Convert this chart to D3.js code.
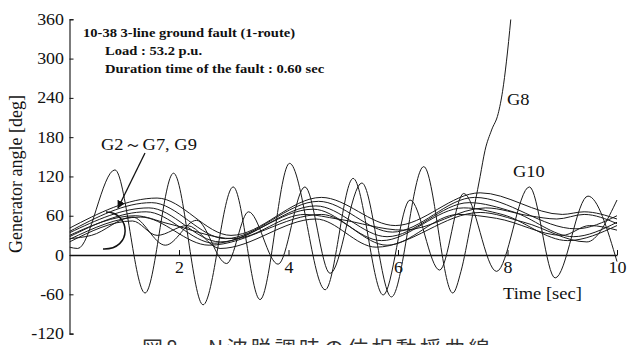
<!DOCTYPE html>
<html>
<head>
<meta charset="utf-8">
<script src="https://cdn.jsdelivr.net/npm/d3@7"></script>
<style>
  html, body { margin: 0; padding: 0; background: #fff; }
  svg { display: block; }
</style>
</head>
<body>
<svg id="chart" width="627" height="345"></svg>
<script>
// Generator phase angles [deg] against time [sec], stored as [time, angle] pairs.
// G2–G7 and G9 stay together as a group; G8 loses synchronism; G10 swings widely.
const g2 = [[0,41],[1.6,87],[2.95,30],[4.6,88],[5.95,45],[7.5,95],[9.0,62],[9.4,66],[10,55]];
const g3 = [[0,36],[1.5,80],[2.85,25],[4.55,82],[5.9,35],[7.4,88],[9.25,40],[10,60]];
const g4 = [[0,34],[1.45,72],[2.75,20],[4.5,75],[5.8,28],[7.3,80],[8.1,66],[9.2,28],[10,50]];
const g5 = [[0,28],[1.4,66],[2.65,18],[4.45,70],[5.7,22],[7.2,72],[7.9,62],[9.1,22],[10,45]];
const g6 = [[0,24],[1.3,58],[2.55,15],[4.6,62],[5.8,15],[7.1,62],[7.8,56],[9.0,30],[9.5,45],[10,38]];
const g7 = [[0,20],[1.15,52],[1.6,30],[2.15,45],[2.75,10],[4.5,55],[5.6,12],[7.5,65],[8.3,50],[9.45,20],[10,84]];
const g9 = [[0,30],[1.2,60],[1.8,48],[3.0,25],[4.3,62],[4.9,55],[6.1,38],[7.6,72],[8.4,60],[8.9,55],[9.4,62],[10,48]];
const g8 = [[0,25],[0.4,30],[1.15,58],[1.75,15],[2.32,53],[2.87,-13],[3.27,66],[3.81,-14],[4.3,104],
            [4.76,-28],[5.34,110],[5.88,-64],[6.47,135],[7.0,-58],[7.15,-25],[7.32,43],[7.5,120],
            [7.59,160],[7.71,191],[7.83,216],[7.91,250],[7.98,295],[8.06,360]];
const g10 = [[0,12],[0.15,10],[0.83,130],[1.38,-58],[1.9,125],[2.44,-76],[2.99,104],[3.48,-68],
             [4.02,140],[4.67,-53],[5.18,117],[5.73,-61],[6.22,84],[6.76,-23],[7.2,94],[7.8,-25],
             [8.4,104],[8.87,-35],[9.47,90],[10,-10]];

const groupSeries = [g2, g3, g4, g5, g6, g7, g9];
const xTicks = [2, 4, 6, 8, 10];
const yTicks = [-120, -60, 0, 60, 120, 180, 240, 300, 360];

const titleLines = ["10-38 3-line ground fault (1-route)", "Load : 53.2 p.u.", "Duration time of the fault : 0.60 sec"];
const yTitle = "Generator angle [deg]";
const xTitle = "Time [sec]";
const groupLabel = "G2\uFF5EG7, G9";
const g8Label = "G8";
const g10Label = "G10";
const captionHead = "図8";
const captionBody = "N波脱調時の位相動揺曲線";

const SERIF = "'Liberation Serif', 'DejaVu Serif', 'Times New Roman', serif";
const CJK = "'Noto Sans CJK JP', 'Noto Sans CJK SC', sans-serif";

const svg = d3.select("#chart");
const x = d3.scaleLinear().domain([0, 10]).range([69.5, 617]);
const y = d3.scaleLinear().domain([-120, 360]).range([333.6, 19.3]);
const SX = 1.12; // slightly wide lettering

function placeText(str, px, py, size, opts = {}) {
  return svg.append("text")
    .attr("transform", `translate(${px},${py}) scale(${opts.sx || SX},1)`)
    .style("font-family", opts.family || SERIF)
    .style("font-size", size + "px")
    .style("font-weight", opts.weight || "normal")
    .attr("text-anchor", opts.anchor || "start")
    .attr("fill", "#111")
    .text(str);
}

// clip the curves to the plotting range
svg.append("clipPath").attr("id", "plotClip")
  .append("rect").attr("x", x(0)).attr("y", y(360)).attr("width", 560).attr("height", y(-120) - y(360));

// axes
const yAxis = d3.axisLeft(y).tickValues(yTicks).tickSizeInner(-4).tickSizeOuter(-4)
  .tickPadding(5.5).tickFormat(d => String(d));
const gy = svg.append("g").attr("transform", `translate(${x(0)},0)`).call(yAxis);
gy.attr("color", "#111");
gy.select(".domain").attr("stroke-width", 1.1);
gy.selectAll(".tick line").attr("stroke-width", 1);
gy.selectAll(".tick text").each(function () {
  const t = d3.select(this);
  const px = +t.attr("x");
  t.attr("x", 0).attr("transform", `translate(${px},0) scale(${SX},1)`)
    .style("font-family", SERIF).style("font-size", "16px");
});

const xAxis = d3.axisBottom(x).tickValues(xTicks).tickSizeInner(-5).tickSizeOuter(0)
  .tickPadding(7).tickFormat(d => String(d));
const gx = svg.append("g").attr("transform", `translate(0,${y(0)})`).call(xAxis);
gx.attr("color", "#111");
gx.select(".domain").attr("stroke-width", 1.4);
gx.selectAll(".tick text").attr("transform", `scale(${SX},1)`)
  .style("font-family", SERIF).style("font-size", "16px");

// curves
const line = d3.line().x(d => x(d[0])).y(d => y(d[1])).curve(d3.curveMonotoneX);
const plot = svg.append("g").attr("clip-path", "url(#plotClip)");
plot.selectAll("path.gen")
  .data(groupSeries.concat([g8, g10]))
  .join("path")
  .attr("class", "gen")
  .attr("d", line)
  .attr("fill", "none")
  .attr("stroke", "#1a1a1a")
  .attr("stroke-width", 1);

// titles
titleLines.forEach((s, i) => {
  placeText(s, i === 0 ? 83 : 105, [37, 54.5, 72.5][i], 13, { weight: "bold" });
});
svg.append("text")
  .attr("transform", "translate(22,174) rotate(-90)")
  .style("font-family", SERIF).style("font-size", "18px")
  .attr("text-anchor", "middle").attr("fill", "#111")
  .text(yTitle);
placeText(xTitle, 503, 299, 16.5);

// curve labels
placeText(g8Label, 507, 105, 16.5);
placeText(g10Label, 513, 177, 16.5);
placeText(groupLabel, 101, 150, 16.5);

// arrow pointing at the G2–G7, G9 group
svg.append("defs").append("marker")
  .attr("id", "arrowHead").attr("viewBox", "0 0 10 10").attr("refX", 9).attr("refY", 5)
  .attr("markerWidth", 8).attr("markerHeight", 8).attr("markerUnits", "userSpaceOnUse")
  .attr("orient", "auto")
  .append("path").attr("d", "M0,0L10,5L0,10Z").attr("fill", "#111");
svg.append("line")
  .attr("x1", 145).attr("y1", 153).attr("x2", 118).attr("y2", 208)
  .attr("stroke", "#111").attr("stroke-width", 1.3)
  .attr("marker-end", "url(#arrowHead)");
// bracket around the group
svg.append("path")
  .attr("d", "M106,212 C131,212 133,250 103,249")
  .attr("fill", "none").attr("stroke", "#111").attr("stroke-width", 1.5);

// figure caption
svg.append("text").attr("x", 142).attr("y", 356)
  .style("font-family", CJK).style("font-size", "21px")
  .attr("letter-spacing", 3).attr("fill", "#333").text(captionHead);
svg.append("text").attr("x", 208).attr("y", 356)
  .style("font-family", CJK).style("font-size", "21px")
  .attr("letter-spacing", 3.2).attr("fill", "#333").text(captionBody);
</script>
</body>
</html>
